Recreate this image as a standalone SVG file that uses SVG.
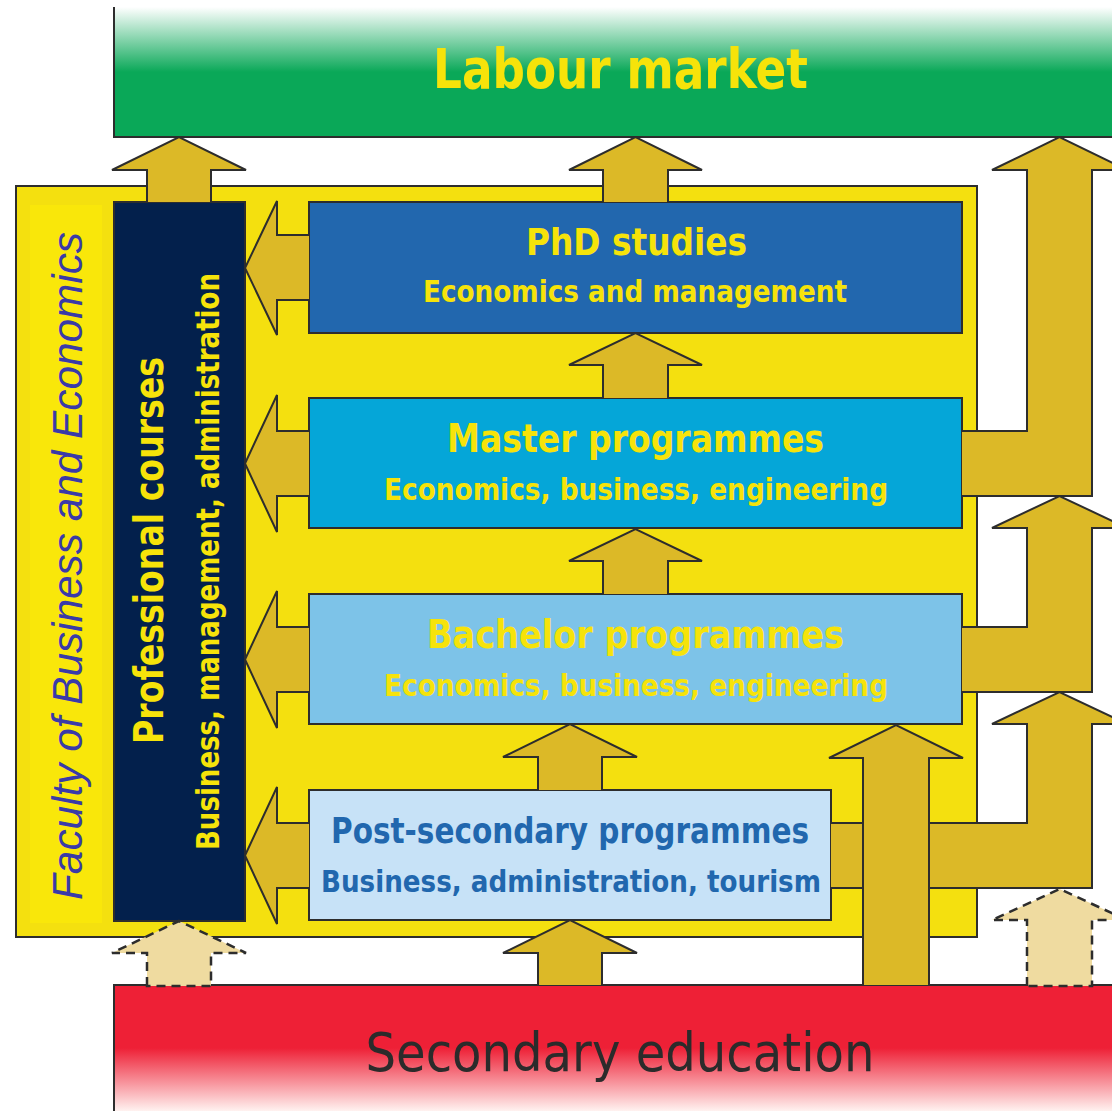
<svg xmlns="http://www.w3.org/2000/svg" width="1112" height="1111" viewBox="0 0 1112 1111">
<defs>
<linearGradient id="gGreen" gradientUnits="userSpaceOnUse" x1="0" y1="7" x2="0" y2="137">
<stop offset="0" stop-color="#ffffff"/>
<stop offset="0.5" stop-color="#0aa858"/>
<stop offset="1" stop-color="#0aa858"/>
</linearGradient>
<linearGradient id="gRed" gradientUnits="userSpaceOnUse" x1="0" y1="985" x2="0" y2="1111">
<stop offset="0" stop-color="#ee2036"/>
<stop offset="0.5" stop-color="#ee2036"/>
<stop offset="1" stop-color="#fff2f0"/>
</linearGradient>
<style>
.ln{fill:none;stroke:#2d2d2d;stroke-width:2}
.box{stroke:#2d2d2d;stroke-width:2}
.arr{fill:#dcb927;stroke:#2d2d2d;stroke-width:2;stroke-linejoin:miter}
.dash{fill:#efdba0;stroke:#2d2d2d;stroke-width:2.5;stroke-dasharray:9 6}
.t{font-family:"DejaVu Sans","Liberation Sans",sans-serif;font-weight:bold;fill:#f6e30a;text-anchor:middle}
.tb{font-family:"DejaVu Sans","Liberation Sans",sans-serif;font-weight:bold;fill:#2167ae;text-anchor:middle}
</style>
</defs>

<g id="labour-market">
<rect x="114" y="7" width="1010" height="130" fill="url(#gGreen)"/>
<path class="ln" d="M114,7 L114,137 L1112,137"/>
<text class="t" x="620.5" y="88" font-size="55" textLength="375" lengthAdjust="spacingAndGlyphs">Labour market</text>
</g>

<g id="secondary-education">
<rect x="114" y="985" width="1010" height="130" fill="url(#gRed)"/>
<path class="ln" d="M114,1111 L114,985 L1112,985"/>
<text x="620" y="1071" font-family="DejaVu Sans, Liberation Sans, sans-serif" font-size="54" fill="#2b2b2b" text-anchor="middle" textLength="509" lengthAdjust="spacingAndGlyphs">Secondary education</text>
</g>

<g id="faculty">
<rect class="box" x="16" y="186" width="961" height="751" fill="#f4e00f"/>
<rect x="30" y="205" width="72" height="718" fill="#f9e70a"/>
<text transform="translate(82,566) rotate(-90)" x="0" y="0" font-family="Liberation Sans, Arial, sans-serif" font-style="italic" font-size="43" fill="#3a3aa8" text-anchor="middle" textLength="668" lengthAdjust="spacingAndGlyphs">Faculty of Business and Economics</text>
</g>

<g id="professional-courses">
<rect class="box" x="114" y="202" width="131" height="719" fill="#03204c"/>
<text class="t" transform="translate(163,550.5) rotate(-90)" x="0" y="0" font-size="41" textLength="387" lengthAdjust="spacingAndGlyphs">Professional courses</text>
<text class="t" transform="translate(219,561.5) rotate(-90)" x="0" y="0" font-size="32" font-weight="600" textLength="577" lengthAdjust="spacingAndGlyphs">Business, management, administration</text>
</g>

<g id="phd">
<rect class="box" x="309" y="202" width="653" height="131" fill="#2267ae"/>
<text class="t" x="636.5" y="255" font-size="38" textLength="221" lengthAdjust="spacingAndGlyphs">PhD studies</text>
<text class="t" x="635" y="302" font-size="30" textLength="424" lengthAdjust="spacingAndGlyphs">Economics and management</text>
</g>

<g id="master">
<rect class="box" x="309" y="398" width="653" height="130" fill="#05a6d8"/>
<text class="t" x="635.5" y="452" font-size="39" textLength="377" lengthAdjust="spacingAndGlyphs">Master programmes</text>
<text class="t" x="636" y="500" font-size="30" textLength="504" lengthAdjust="spacingAndGlyphs">Economics, business, engineering</text>
</g>

<g id="bachelor">
<rect class="box" x="309" y="594" width="653" height="130" fill="#7dc3e8"/>
<text class="t" x="635.5" y="648" font-size="39" textLength="417" lengthAdjust="spacingAndGlyphs">Bachelor programmes</text>
<text class="t" x="636" y="696" font-size="30" textLength="504" lengthAdjust="spacingAndGlyphs">Economics, business, engineering</text>
</g>

<g id="post-secondary">
<rect class="box" x="309" y="790" width="522" height="130" fill="#c7e2f7"/>
<text class="tb" x="570" y="843" font-size="35" textLength="478" lengthAdjust="spacingAndGlyphs">Post-secondary programmes</text>
<text class="tb" x="571" y="892" font-size="30" textLength="500" lengthAdjust="spacingAndGlyphs">Business, administration, tourism</text>
</g>

<g id="connectors">
<path class="arr" d="M147,202 L147,170 L112,170 L179,137 L246,170 L211,170 L211,202"/>
<path class="arr" d="M603,202 L603,170 L569,170 L635.5,137 L702,170 L668,170 L668,202"/>
<path class="arr" d="M603,398 L603,365 L569,365 L635.5,333 L702,365 L668,365 L668,398"/>
<path class="arr" d="M603,594 L603,561 L569,561 L635.5,529 L702,561 L668,561 L668,594"/>
<path class="arr" d="M538,790 L538,757 L503,757 L570,724 L637,757 L602,757 L602,790"/>
<path class="arr" d="M538,985 L538,953 L503,953 L570,920 L637,953 L602,953 L602,985"/>

<path class="arr" d="M309,235 L277,235 L277,201 L245,268 L277,335 L277,300 L309,300"/>
<path class="arr" d="M309,431 L277,431 L277,395 L245,463.5 L277,532 L277,496 L309,496"/>
<path class="arr" d="M309,627 L277,627 L277,591 L245,659.5 L277,728 L277,692 L309,692"/>
<path class="arr" d="M309,823 L277,823 L277,787 L245,855.5 L277,924 L277,888 L309,888"/>

<path class="arr" d="M962,431 L1027,431 L1027,170 L992,170 L1059.5,137 L1127,170 L1092,170 L1092,496 L962,496"/>
<path class="arr" d="M962,627 L1027,627 L1027,528 L992,528 L1059.5,496 L1127,528 L1092,528 L1092,692 L962,692"/>
<path class="arr" d="M831,823 L1027,823 L1027,724 L992,724 L1059.5,692 L1127,724 L1092,724 L1092,888 L831,888"/>
<path class="arr" d="M863,985 L863,758 L829,758 L896,725 L963,758 L929,758 L929,985"/>

<path class="dash" d="M147,986 L147,953 L112,953 L179,921 L246,953 L211,953 L211,986 Z"/>
<path class="dash" d="M1027,986 L1027,920 L992,920 L1059.5,889 L1127,920 L1092,920 L1092,986 Z"/>
</g>
</svg>
